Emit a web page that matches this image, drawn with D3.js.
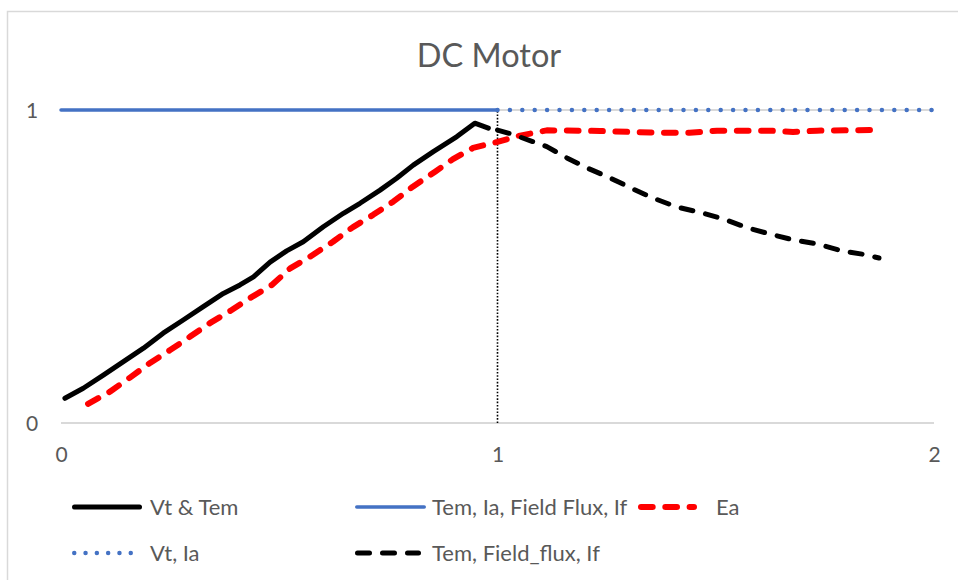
<!DOCTYPE html>
<html>
<head>
<meta charset="utf-8">
<script src="https://cdn.jsdelivr.net/npm/d3@7"></script>
<style>
  html, body { margin: 0; padding: 0; background: #fff; }
  svg { display: block; }
  text { font-family: Lato, "Open Sans", "Liberation Sans", sans-serif; fill: #595959; }
</style>
</head>
<body>
<svg id="chart" width="958" height="580"></svg>
<script>
// ---- data ----
const chartTitle = "DC Motor";
const xTickValues = [0, 1, 2];
const yTickValues = [0, 1];

// Vt & Tem (constant-torque region, rising)
const vtTemX = [0.009, 0.051, 0.097, 0.143, 0.189, 0.234, 0.280, 0.326, 0.372, 0.410, 0.441, 0.479,
                0.517, 0.555, 0.601, 0.647, 0.685, 0.731, 0.769, 0.807, 0.853, 0.907, 0.948, 0.979];
const vtTemY = [0.079, 0.111, 0.153, 0.196, 0.239, 0.287, 0.329, 0.372, 0.414, 0.441, 0.467, 0.514,
                0.550, 0.579, 0.627, 0.670, 0.702, 0.744, 0.782, 0.824, 0.867, 0.915, 0.958, 0.942];

// Tem, Ia, Field Flux, If (held at rated value below base speed)
const ratedX = [0, 1];
const ratedY = [1, 1];

// Ea (back EMF)
const eaX = [0.062, 0.112, 0.158, 0.204, 0.250, 0.296, 0.341, 0.391, 0.433, 0.483, 0.525, 0.570,
             0.623, 0.669, 0.715, 0.761, 0.806, 0.857, 0.898, 0.944, 1.000, 1.047, 1.113, 1.235,
             1.350, 1.440, 1.503, 1.624, 1.677, 1.732, 1.865];
const eaY = [0.061, 0.100, 0.145, 0.192, 0.233, 0.276, 0.319, 0.361, 0.399, 0.441, 0.494, 0.531,
             0.579, 0.626, 0.665, 0.707, 0.755, 0.803, 0.843, 0.879, 0.898, 0.917, 0.935, 0.933,
             0.928, 0.927, 0.934, 0.934, 0.930, 0.934, 0.936];

// Vt, Ia (held at rated value above base speed)
const vtIaX = [1, 2];
const vtIaY = [1, 1];

// Tem, Field_flux, If (field weakening region)
const weakX = [1.000, 1.033, 1.081, 1.113, 1.159, 1.205, 1.258, 1.310, 1.356, 1.411, 1.464, 1.517,
               1.574, 1.624, 1.677, 1.732, 1.789, 1.842, 1.874];
const weakY = [0.936, 0.923, 0.899, 0.883, 0.847, 0.815, 0.783, 0.748, 0.719, 0.690, 0.673, 0.652,
               0.623, 0.604, 0.585, 0.572, 0.550, 0.538, 0.527];

// base-speed marker
const baseX = [1, 1];
const baseY = [0, 1];

// ---- layout ----
const W = 958, H = 580;
const plot = { left: 61, right: 934, top: 110, bottom: 423 };

const svg = d3.select("#chart");
svg.append("rect").attr("width", W).attr("height", H).attr("fill", "#fff");

// chart frame
svg.append("path")
  .attr("d", `M7.5,${H} V11.5 H${W}`)
  .attr("fill", "none").attr("stroke", "#D9D9D9").attr("stroke-width", 1.5);

const x = d3.scaleLinear().domain([0, 2]).range([plot.left, plot.right]);
const y = d3.scaleLinear().domain([0, 1]).range([plot.bottom, plot.top]);

// title
svg.append("text")
  .attr("x", 489).attr("y", 56).attr("dy", "0.35em")
  .attr("text-anchor", "middle")
  .style("font-size", "32.5px")
  .text(chartTitle);

// gridlines
svg.append("g").selectAll("line").data(yTickValues).join("line")
  .attr("x1", plot.left).attr("x2", plot.right)
  .attr("y1", d => y(d)).attr("y2", d => y(d))
  .attr("stroke", "#D9D9D9").attr("stroke-width", 2);

// axes (labels only)
const gx = svg.append("g").attr("transform", `translate(0,${plot.bottom})`)
  .call(d3.axisBottom(x).tickValues(xTickValues).tickFormat(d3.format("d")).tickSize(0));
gx.select(".domain").remove();
gx.selectAll("text").attr("y", 32).attr("dy", "0.35em")
  .style("font-size", "21px").style("font-family", null).attr("fill", "#595959");

const gy = svg.append("g").attr("transform", `translate(${plot.left},0)`)
  .call(d3.axisLeft(y).tickValues(yTickValues).tickFormat(d3.format("d")).tickSize(0));
gy.select(".domain").remove();
gy.selectAll("text").attr("x", -29).attr("dy", "0.35em").attr("text-anchor", "middle")
  .style("font-size", "21px").style("font-family", null).attr("fill", "#595959");

// series
const zip = (xs, ys) => xs.map((v, i) => [v, ys[i]]);
const line = d3.line().x(d => x(d[0])).y(d => y(d[1]));

const series = [
  { name: "Vt & Tem", pts: zip(vtTemX, vtTemY), color: "#000", width: 5, dash: null, cap: "round",
    legend: { col: 0, row: 0, end: 142 } },
  { name: "Tem, Ia, Field Flux, If", pts: zip(ratedX, ratedY), color: "#4472C4", width: 3.5, dash: null, cap: "round",
    legend: { col: 1, row: 0, end: 426 } },
  { name: "Ea", pts: zip(eaX, eaY), color: "#FF0000", width: 6, dash: "11.7,12.6", cap: "round",
    legend: { col: 2, row: 0, end: 697 } },
  { name: "Vt, Ia", pts: zip(vtIaX, vtIaY), color: "#4472C4", width: 4.5, dash: "0,12.4", cap: "round",
    legendDash: "0,11.3", legend: { col: 0, row: 1, end: 133.5 } },
  { name: "Tem, Field_flux, If", pts: zip(weakX, weakY), color: "#000", width: 5, dash: "12,13", cap: "round",
    legend: { col: 1, row: 1, end: 421 } },
  { name: "base", pts: zip(baseX, baseY), color: "#000", width: 1.6, dash: "1.6,1.7", cap: "butt",
    legend: null }
];

// draw order: vertical marker first, then the curves
const drawOrder = [5, 1, 3, 0, 2, 4];
svg.append("g").selectAll("path").data(drawOrder.map(i => series[i])).join("path")
  .attr("d", d => line(d.pts))
  .attr("fill", "none")
  .attr("stroke", d => d.color)
  .attr("stroke-width", d => d.width)
  .attr("stroke-dasharray", d => d.dash)
  .attr("stroke-linecap", d => d.cap)
  .attr("stroke-linejoin", "round");

// legend
const colStart = [72, 355, 638];
const colText = [150, 432, 716];
const rowY = [507, 553];
const lg = svg.append("g");
series.filter(s => s.legend).forEach(s => {
  const c = s.legend.col, r = s.legend.row;
  const half = s.cap === "round" ? s.width / 2 : 0;
  lg.append("line")
    .attr("x1", colStart[c] + half)
    .attr("x2", s.legend.end - half)
    .attr("y1", rowY[r]).attr("y2", rowY[r])
    .attr("stroke", s.color).attr("stroke-width", s.width)
    .attr("stroke-dasharray", s.legendDash || s.dash)
    .attr("stroke-linecap", s.cap);
  lg.append("text")
    .attr("x", colText[c]).attr("y", rowY[r]).attr("dy", "0.35em")
    .style("font-size", "22px")
    .text(s.name);
});
</script>
</body>
</html>
